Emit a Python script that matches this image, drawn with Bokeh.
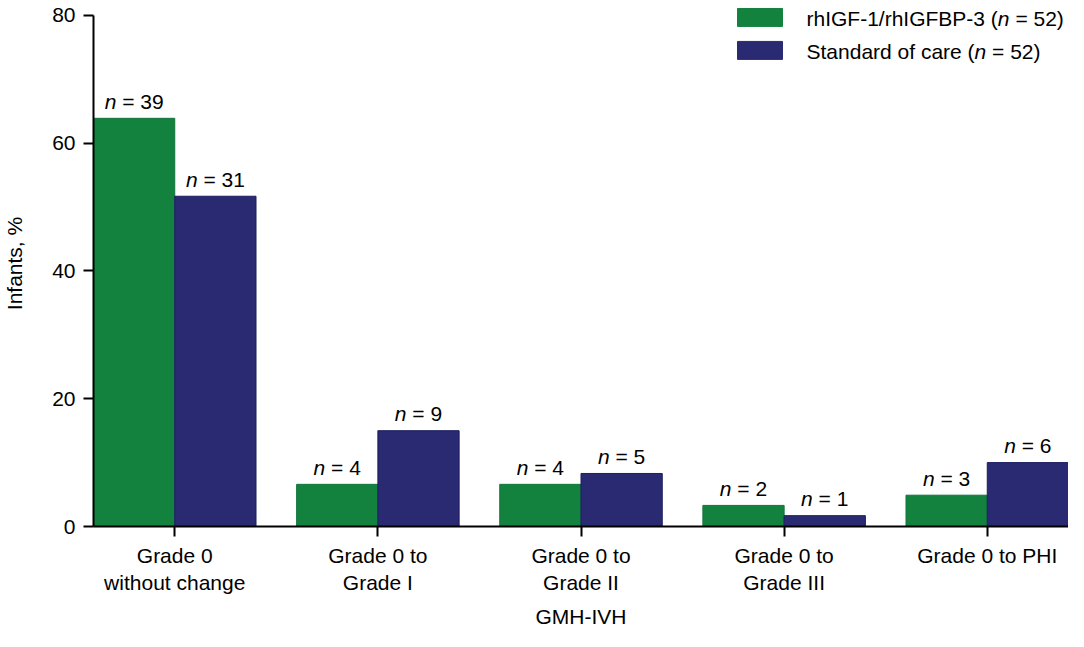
from bokeh.plotting import figure
from bokeh.models import Range1d, FixedTicker, ColumnDataSource
from bokeh.core.properties import value
from bokeh.embed import file_html
from bokeh.resources import INLINE

# ---------------- data ----------------
categories = ["Grade 0\nwithout change", "Grade 0 to\nGrade I", "Grade 0 to\nGrade II",
              "Grade 0 to\nGrade III", "Grade 0 to PHI"]
treatment_pct = [63.9, 6.6, 6.6, 3.3, 4.9]
control_pct = [51.7, 15.0, 8.3, 1.7, 10.0]
treatment_n = [39, 4, 4, 2, 3]
control_n = [31, 9, 5, 1, 6]
series_names = ["rhIGF-1/rhIGFBP-3", "Standard of care"]
series_total_n = [52, 52]
y_ticks = [0, 20, 40, 60, 80]
x_title = "GMH-IVH"
y_title = "Infants, %"

# ---------------- style ----------------
GREEN = "#13823f"
BLUE = "#2a2a73"
FONT = "Liberation Sans"
FS = 21
NB = "\u00a0"
W, H = 1068, 631
LEFT, RIGHT, TOP = 93, 0, 0
FRAME_BOTTOM = 527
BOTTOM = H - FRAME_BOTTOM
FRAME_W = W - LEFT - RIGHT
FRAME_H = FRAME_BOTTOM - TOP
PX_PER_Y = 6.4
X0, X1 = -0.4, 4.4
PX_PER_X = FRAME_W / (X1 - X0)
Y1 = FRAME_H / PX_PER_Y

# Arial / Liberation Sans advance widths (em)
AW = {" ": .278, NB: .278, "=": .584, "n": .556, "(": .333, ")": .333, "-": .333, "/": .278,
      "r": .333, "h": .556, "I": .278, "G": .778, "F": .611, "B": .667, "P": .667,
      "S": .667, "t": .278, "a": .556, "d": .556, "o": .556, "f": .278, "c": .5, "e": .556}
def tw(s, fs=FS):
    return sum(AW.get(ch, .556) for ch in s) * fs

def fx(px):  # canvas px -> data x
    return X0 + (px - LEFT) / PX_PER_X
def fy(py):  # canvas px -> data y
    return Y1 - (py - TOP) / PX_PER_Y

p = figure(width=W, height=H, output_backend="svg", toolbar_location=None,
           x_range=Range1d(X0, X1), y_range=Range1d(0, Y1),
           min_border_left=LEFT, min_border_right=RIGHT,
           min_border_top=TOP, min_border_bottom=BOTTOM)
p.outline_line_color = None
p.grid.visible = False
p.background_fill_color = "white"

idx = list(range(len(categories)))
bw = 0.4
src_t = ColumnDataSource(dict(x=[i - bw / 2 for i in idx], top=treatment_pct))
src_c = ColumnDataSource(dict(x=[i + bw / 2 for i in idx], top=control_pct))
p.vbar(x="x", top="top", width=bw, bottom=0, source=src_t,
       fill_color=GREEN, line_color="#107538", line_width=1)
p.vbar(x="x", top="top", width=bw, bottom=0, source=src_c,
       fill_color=BLUE, line_color="#1d1d60", line_width=1)

# n labels: italic "n" + normal " = k"
def label_source(xs, ys, ns):
    rest = [NB + "=" + NB + "%d" % n for n in ns]
    tot = [tw("n") + tw(r) for r in rest]
    return ColumnDataSource(dict(
        x=xs, y=ys, n=["n"] * len(ns), rest=rest,
        off_n=[-t / 2 for t in tot], off_r=[-t / 2 + tw("n") for t in tot]))

LBL_DY = -17
for xs, ys, ns in [([i - bw / 2 for i in idx], treatment_pct, treatment_n),
                   ([i + bw / 2 for i in idx], control_pct, control_n)]:
    s = label_source(xs, ys, ns)
    p.text(x="x", y="y", text="n", x_offset="off_n", y_offset=LBL_DY, source=s,
           text_font=value(FONT), text_font_size=value("%dpx" % FS),
           text_font_style="italic", text_align="left", text_baseline="alphabetic",
           text_color="black")
    p.text(x="x", y="y", text="rest", x_offset="off_r", y_offset=LBL_DY, source=s,
           text_font=value(FONT), text_font_size=value("%dpx" % FS),
           text_align="left", text_baseline="alphabetic", text_color="black")

# legend (manual, to allow italic n)
sw_left, sw_right, sw_h = 737, 782, 18
row_top = [8, 41]
colors = [GREEN, BLUE]
txt_left = 806
for k in range(2):
    t = row_top[k]
    p.quad(left=[fx(sw_left)], right=[fx(sw_right)], top=[fy(t)], bottom=[fy(t + sw_h)],
           fill_color=colors[k], line_color=colors[k])
    parts = [(series_names[k] + NB + "(", "normal"), ("n", "italic"),
             (NB + "=" + NB + "%d)" % series_total_n[k], "normal")]
    off = 0.0
    yc = fy(t + sw_h / 2 + 1)
    for txt, style in parts:
        p.text(x=[fx(txt_left)], y=[yc], text=[txt], x_offset=off,
               text_font=value(FONT), text_font_size=value("%dpx" % FS),
               text_font_style=style, text_align="left", text_baseline="middle",
               text_color="black")
        off += tw(txt)

# axes
for ax in (p.xaxis[0], p.yaxis[0]):
    ax.axis_line_width = 2
    ax.axis_line_color = "black"
    ax.major_tick_line_width = 2
    ax.major_tick_line_color = "black"
    ax.major_tick_out = 10
    ax.major_tick_in = 0
    ax.minor_tick_out = 0
    ax.minor_tick_in = 0
    ax.major_label_text_font = FONT
    ax.major_label_text_font_size = "%dpx" % FS
    ax.major_label_text_color = "black"
    ax.axis_label_text_font = FONT
    ax.axis_label_text_font_size = "%dpx" % FS
    ax.axis_label_text_font_style = "normal"
    ax.axis_label_text_color = "black"

p.yaxis.ticker = FixedTicker(ticks=y_ticks)
p.yaxis.bounds = (y_ticks[0], y_ticks[-1])
p.yaxis.major_label_standoff = 8
p.yaxis.axis_label = y_title
p.yaxis.axis_label_standoff = 23

p.xaxis.ticker = FixedTicker(ticks=idx)
p.xaxis.major_label_overrides = {i: c for i, c in zip(idx, categories)}
p.xaxis.major_label_standoff = 7
p.xaxis.axis_label = x_title
p.xaxis.axis_label_standoff = 8

open("out.html", "w").write(file_html(p, INLINE))
